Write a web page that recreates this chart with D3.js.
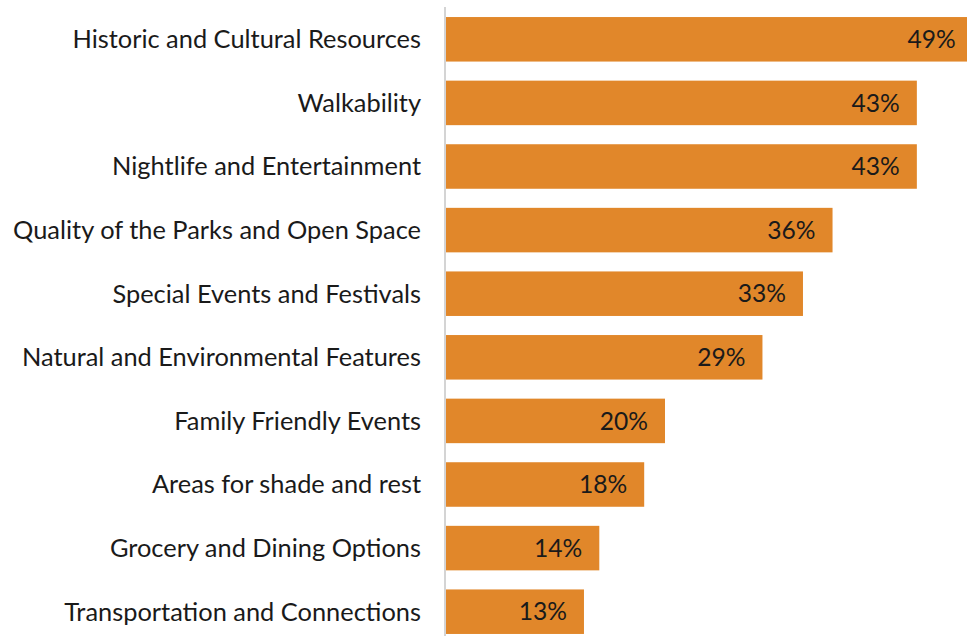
<!DOCTYPE html>
<html>
<head>
<meta charset="utf-8">
<script src="https://cdn.jsdelivr.net/npm/d3@7"></script>
<style>
  body { margin: 0; background: #fff; }
  svg { display: block; }
</style>
</head>
<body>
<svg id="chart" width="967" height="636"></svg>
<script>
// categories, top to bottom
var categories = [
    "Historic and Cultural Resources",
    "Walkability",
    "Nightlife and Entertainment",
    "Quality of the Parks and Open Space",
    "Special Events and Festivals",
    "Natural and Environmental Features",
    "Family Friendly Events",
    "Areas for shade and rest",
    "Grocery and Dining Options",
    "Transportation and Connections"
];
// share of respondents (%)
var shares = [48.1, 43.0, 43.0, 35.3, 32.6, 28.9, 20.0, 18.1, 14.0, 12.6];
// the printed data labels
var shareLabels = ["49%", "43%", "43%", "36%", "33%", "29%", "20%", "18%", "14%", "13%"];

var width = 967;
var height = 636;
var axisX = 446;

var svg = d3.select("#chart");

var y = d3.scaleBand()
    .domain(categories)
    .range([7.5, 643.5])
    .paddingInner(0.3)
    .paddingOuter(0.15);

var x = d3.scaleLinear()
    .domain([0, 50])
    .range([axisX, axisX + 547.5]);

var rows = categories.map(function (c, i) {
    return { name: c, value: shares[i], label: shareLabels[i] };
});

// bars
svg.append("g")
    .selectAll("rect")
    .data(rows)
    .enter()
    .append("rect")
    .attr("x", x(0))
    .attr("y", d => y(d.name))
    .attr("width", d => x(d.value) - x(0))
    .attr("height", y.bandwidth())
    .attr("fill", "#e1872a");

// category labels
svg.append("g")
    .selectAll("text")
    .data(rows)
    .enter()
    .append("text")
    .attr("x", axisX - 25)
    .attr("y", d => y(d.name) + y.bandwidth() / 2)
    .attr("dy", "0.35em")
    .attr("text-anchor", "end")
    .attr("font-family", "Lato, sans-serif")
    .attr("font-size", 25.4)
    .attr("fill", "#1a1a1a")
    .text(d => d.name);

// value labels, inside bar end
svg.append("g")
    .selectAll("text")
    .data(rows)
    .enter()
    .append("text")
    .attr("x", d => x(d.value) - 17)
    .attr("y", d => y(d.name) + y.bandwidth() / 2)
    .attr("dy", "0.35em")
    .attr("text-anchor", "end")
    .attr("font-family", "Lato, sans-serif")
    .attr("font-size", 24.6)
    .attr("fill", "#1a1a1a")
    .text(d => d.label);

// vertical axis line
svg.append("line")
    .attr("x1", axisX - 1)
    .attr("x2", axisX - 1)
    .attr("y1", 7)
    .attr("y2", height)
    .attr("stroke", "#d4d4d4")
    .attr("stroke-width", 2);
</script>
</body>
</html>
